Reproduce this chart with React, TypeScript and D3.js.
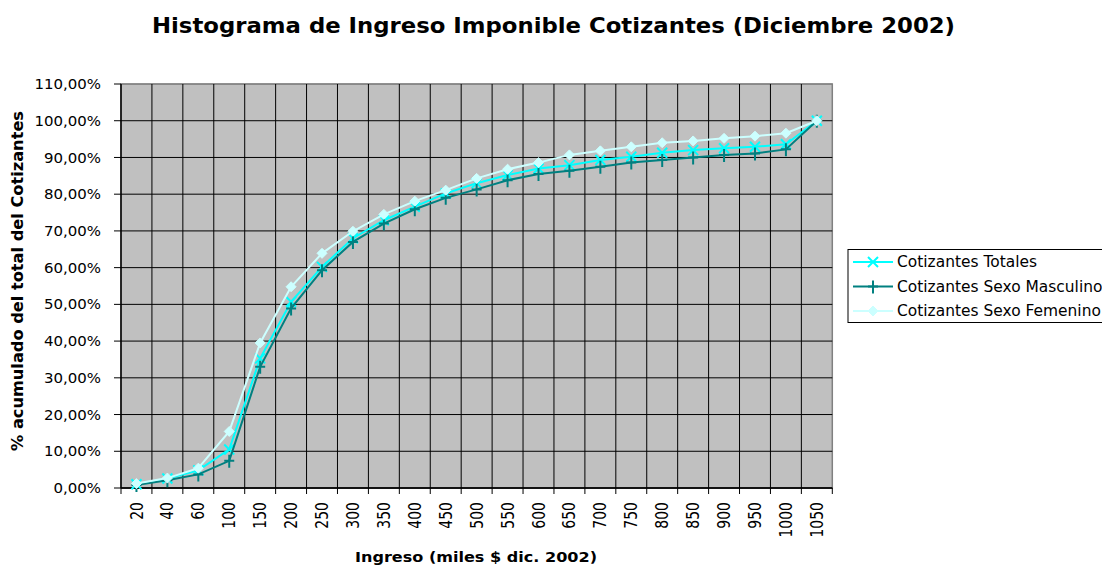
import React from "react";
import * as d3 from "d3";

const categories = ["20","40","60","100","150","200","250","300","350","400","450","500","550","600","650","700","750","800","850","900","950","1000","1050"];
const totales = [1.0,2.6,4.8,10.5,35.3,50.7,60.2,68.0,72.9,76.6,80.2,83.0,85.2,87.0,87.9,89.3,90.2,91.3,92.0,92.5,92.9,93.6,100];
const masculino = [0.8,2.1,3.7,7.4,33.0,48.9,59.3,67.0,72.0,75.9,79.0,81.3,83.8,85.5,86.4,87.5,88.6,89.3,90.0,90.7,91.1,92.2,100];
const femenino = [1.2,2.7,5.4,15.4,39.5,54.8,63.9,69.9,74.5,78.1,81.1,84.3,86.8,88.6,90.7,91.8,92.9,94.0,94.5,95.2,95.8,96.6,100];
const yTicks = [0,10,20,30,40,50,60,70,80,90,100,110];

const FONT = "'DejaVu Sans', Verdana, sans-serif";

type Marker = "x" | "plus" | "diamond";
const series: { name: string; values: number[]; color: string; marker: Marker }[] = [
  { name: "Cotizantes Totales", values: totales, color: "#00FFFF", marker: "x" },
  { name: "Cotizantes Sexo Masculino", values: masculino, color: "#008080", marker: "plus" },
  { name: "Cotizantes Sexo Femenino", values: femenino, color: "#CCFFFF", marker: "diamond" },
];

function MarkerShape({ type, x, y, color }: { type: Marker; x: number; y: number; color: string }) {
  const s = 5;
  if (type === "x") {
    return (
      <path d={`M${x - s},${y - s}L${x + s},${y + s}M${x - s},${y + s}L${x + s},${y - s}`} stroke={color} strokeWidth={2} fill="none" />
    );
  }
  if (type === "plus") {
    return (
      <path d={`M${x - s},${y}L${x + s},${y}M${x},${y - s - 1}L${x},${y + s + 2}`} stroke={color} strokeWidth={2} fill="none" />
    );
  }
  return <path d={`M${x},${y - s}L${x + s},${y}L${x},${y + s}L${x - s},${y}Z`} fill={color} stroke={color} strokeWidth={1} />;
}

export default function App() {
  const W = 1102, H = 566;
  const left = 121, right = 832.3, top = 84, bottom = 488;
  const x = d3.scaleBand<string>().domain(categories).range([left, right]).padding(0);
  const y = d3.scaleLinear().domain([0, 110]).range([bottom, top]);
  const cx = (c: string) => (x(c) as number) + x.bandwidth() / 2;
  const line = d3.line<number>().x((_, i) => cx(categories[i])).y((d) => y(d));
  const boundaries = categories.map((c) => x(c) as number).concat([right]);

  return (
    <svg width={W} height={H} style={{ position: "absolute", left: 0, top: 0, background: "#fff" }} fontFamily={FONT}>
      <text x={553.5} y={33} textAnchor="middle" fontSize={21} fontWeight="bold" textLength={803} lengthAdjust="spacingAndGlyphs">
        Histograma de Ingreso Imponible Cotizantes (Diciembre 2002)
      </text>
      <rect x={left} y={top} width={right - left} height={bottom - top} fill="#C0C0C0" stroke="#808080" strokeWidth={1.5} />
      {yTicks.map((t) => (
        <line key={"h" + t} x1={left} x2={right} y1={y(t)} y2={y(t)} stroke={t === 110 ? "#808080" : "#000"} strokeWidth={1} />
      ))}
      {boundaries.slice(1, -1).map((b, i) => (
        <line key={"v" + i} x1={b} x2={b} y1={top} y2={bottom} stroke="#000" strokeWidth={1} />
      ))}
      <line x1={left} x2={left} y1={top} y2={bottom} stroke="#000" strokeWidth={1.5} />
      <line x1={left} x2={right} y1={bottom} y2={bottom} stroke="#000" strokeWidth={1.5} />
      {yTicks.map((t) => (
        <g key={"yt" + t}>
          <line x1={left - 7} x2={left} y1={y(t)} y2={y(t)} stroke="#000" />
          <text transform={`translate(101,${y(t)}) scale(1.07,1)`} dy="0.36em" textAnchor="end" fontSize={14}>
            {t.toFixed(2).replace(".", ",")}%
          </text>
        </g>
      ))}
      {boundaries.map((b, i) => (
        <line key={"xt" + i} x1={b} x2={b} y1={bottom} y2={bottom + 6} stroke="#000" />
      ))}
      {categories.map((c) => (
        <text key={"xl" + c} transform={`translate(${cx(c)},${502}) scale(1.2,1) rotate(-90)`} textAnchor="end" dy="0.36em" fontSize={14}>
          {c}
        </text>
      ))}
      <text x={476} y={562} textAnchor="middle" fontSize={14} fontWeight="bold" textLength={242} lengthAdjust="spacingAndGlyphs">
        Ingreso (miles $ dic. 2002)
      </text>
      <text transform={`translate(23,281) scale(1.1,1) rotate(-90)`} textAnchor="middle" fontSize={14} fontWeight="bold" textLength={340} lengthAdjust="spacingAndGlyphs">
        % acumulado del total del Cotizantes
      </text>
      {series.map((s) => (
        <g key={s.name}>
          <path d={line(s.values) || ""} fill="none" stroke={s.color} strokeWidth={2} />
          {s.values.map((v, i) => (
            <MarkerShape key={i} type={s.marker} x={cx(categories[i])} y={y(v)} color={s.color} />
          ))}
        </g>
      ))}
      <rect x={848} y={249.5} width={300} height={73} fill="#fff" stroke="#000" strokeWidth={1} />
      {series.map((s, i) => {
        const ly = 262 + i * 24.5;
        return (
          <g key={"lg" + s.name}>
            <line x1={853} x2={893} y1={ly} y2={ly} stroke={s.color} strokeWidth={2} />
            <MarkerShape type={s.marker} x={873} y={ly} color={s.color} />
            <text transform={`translate(897,${ly}) scale(1.03,1)`} dy="0.36em" fontSize={15}>
              {s.name}
            </text>
          </g>
        );
      })}
    </svg>
  );
}
